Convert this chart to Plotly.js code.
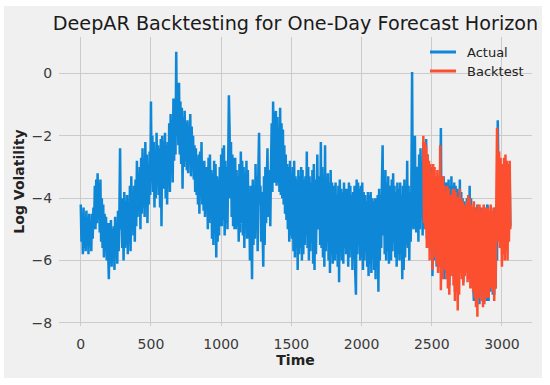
<!DOCTYPE html>
<html>
<head>
<meta charset="utf-8">
<script src="https://cdn.plot.ly/plotly-3.0.1.min.js"></script>
<style>html,body{margin:0;padding:0;background:#fff;}#chart{width:550px;height:385px;}</style>
</head>
<body>
<div id="chart"></div>
<script>
// Time step between sampled observations (days)
const timeStep = 5;
const actualStart = 0;
const backtestStart = 2440;

// Actual log volatility, sampled every 5 days from t=0 (one row = 100 days)
const actualValues = [
  -4.2,-5.4,-4.6,-5.8,-4.3,-5.6,-4.9,-5.7,-4.4,-5.2,-4.7,-5.8,-4.5,-5.5,-4.9,-5.7,-4.5,-5.3,-4.3,-5.0,
  -3.6,-5.0,-3.4,-4.8,-3.2,-4.5,-3.5,-5.1,-3.4,-5.4,-4.0,-5.6,-4.2,-5.9,-4.5,-5.7,-4.6,-6.0,-4.8,-6.1,
  -6.6,-4.8,-5.9,-4.7,-6.2,-5.0,-6.0,-4.9,-6.3,-4.6,-5.8,-4.8,-6.1,-4.4,-5.7,-4.5,-2.4,-5.0,-4.3,-5.6,
  -4.0,-6.0,-3.8,-5.6,-4.1,-5.5,-3.9,-5.8,-4.2,-5.4,-3.6,-5.7,-3.3,-5.0,-3.8,-5.2,-3.6,-5.4,-3.4,-4.9,
  -2.8,-4.6,-3.2,-4.4,-3.0,-5.0,-2.7,-4.5,-2.4,-4.3,-2.9,-4.6,-2.2,-4.1,-2.6,-4.8,-2.9,-4.2,-2.5,-3.9,
  -0.9,-3.5,-2.0,-3.8,-2.2,-4.3,-2.5,-4.0,-1.9,-3.6,-2.3,-3.9,-2.4,-4.3,-2.1,-4.9,-2.0,-3.6,-2.2,-3.7,
  -1.9,-4.0,-2.3,-4.2,-2.2,-3.6,-1.6,-3.8,-1.3,-3.2,-1.5,-3.5,-0.8,-2.8,-1.0,-2.6,0.7,-2.0,-0.6,-2.3,
  -0.3,-2.6,-0.9,-2.9,-1.1,-3.7,-1.4,-3.0,-1.2,-2.8,-1.6,-3.1,-1.5,-3.2,-1.8,-2.7,-1.3,-3.3,-1.7,-2.9,
  -2.0,-3.4,-2.3,-3.8,-2.4,-3.9,-2.7,-4.2,-2.6,-4.5,-2.5,-3.9,-2.2,-4.2,-2.9,-4.4,-2.8,-4.6,-3.0,-4.3,
  -3.0,-5.0,-2.7,-4.8,-2.6,-4.6,-3.1,-5.3,-3.2,-5.5,-2.8,-5.1,-2.9,-5.9,-3.3,-5.4,-3.4,-5.2,-3.0,-4.9,
  -2.6,-4.9,-2.4,-4.7,-2.3,-5.2,-2.8,-4.8,-3.0,-5.0,-2.5,-0.7,-1.8,-4.0,-2.2,-4.6,-2.6,-4.9,-2.7,-5.0,
  -2.7,-5.0,-3.1,-4.9,-3.3,-5.4,-2.9,-5.1,-2.5,-4.8,-2.8,-5.2,-3.0,-5.6,-3.2,-5.0,-2.8,-5.3,-3.1,-5.2,
  -4.0,-6.0,-3.6,-5.8,-6.6,-3.4,-5.5,-3.6,-5.3,-2.9,-5.0,-3.3,-5.7,-3.1,-1.9,-4.2,-3.6,-5.4,-3.8,-5.0,
  -6.2,-3.3,-5.5,-3.0,-4.8,-3.4,-2.4,-4.6,-4.4,-3.1,-4.9,-3.0,-1.6,-3.8,-0.9,-3.2,-3.5,-1.5,-1.2,-3.6,
  -1.4,-3.5,-1.8,-3.8,-1.1,-3.9,-1.6,-4.0,-1.8,-4.2,-2.3,-4.5,-2.6,-4.7,-2.9,-5.0,-3.0,-5.4,-2.8,-5.2,
  -3.2,-5.3,-3.0,-5.7,-2.8,-5.9,-3.3,-5.6,-3.4,-6.3,-3.1,-5.8,-3.3,-5.6,-3.0,-6.0,-3.1,-5.8,-3.4,-5.5,
  -3.3,-5.2,-2.5,-5.6,-3.0,-6.0,-3.3,-5.7,-3.5,-5.4,-3.1,-6.1,-2.9,-6.3,-3.4,-5.8,-3.2,-2.6,-5.0,-3.4,
  -3.3,-5.5,-2.2,-5.6,-3.0,-5.9,-3.4,-6.2,-2.3,-5.7,-3.6,-5.4,-3.2,-6.0,-3.5,-6.4,-3.1,-5.8,-3.5,-6.1,
  -5.5,-3.6,-6.0,-3.5,-5.8,-3.9,-6.2,-3.6,-6.7,-3.4,-5.4,-3.7,-6.0,-3.8,-6.1,-3.5,-5.6,-3.7,-5.8,-3.9,
  -3.7,-6.2,-3.5,-5.9,-3.6,-5.6,-3.9,-6.3,-3.8,-6.0,-3.6,-6.4,-7.1,-3.4,-5.8,-3.5,-5.5,-3.7,-6.0,-3.6,
  -5.9,-3.5,-6.3,-3.8,-6.0,-3.9,-5.7,-4.1,-6.2,-3.8,-6.5,-3.9,-6.1,-3.8,-6.4,-4.0,-5.9,-4.1,-6.3,-4.0,
  -6.6,-4.0,-6.2,-3.9,-7.0,-3.7,-6.0,-3.9,-5.6,-3.5,-2.3,-5.2,-3.4,-5.8,-3.1,-6.0,-3.5,-5.7,-3.3,-6.1,
  -5.6,-3.6,-6.0,-3.4,-5.7,-3.2,-5.4,-3.6,-5.9,-3.8,-6.2,-3.5,-5.8,-3.7,-6.0,-3.5,-5.8,-3.9,-6.6,-3.6,
  -6.3,-3.4,-5.9,-3.6,-5.5,-2.8,-5.6,-3.6,-6.0,-3.8,-5.4,-3.5,0.05,-4.2,-5.0,-3.3,-2.0,-4.6,-5.1,-3.2,
  -3.0,-5.4,-2.6,-5.0,-2.4,-4.6,-2.8,-5.2,-2.2,-5.0,-2.4,-4.8,-2.1,-5.3,-2.6,-4.8,-2.9,-5.6,-3.0,-5.4,
  -3.0,-6.5,-3.2,-6.0,-3.4,-5.8,-3.5,-6.2,-3.6,-6.2,-3.3,-5.9,-3.5,-1.75,-5.5,-3.4,-6.1,-3.3,-6.6,-3.5,
  -3.6,-6.4,-3.5,-6.1,-3.4,-6.8,-3.6,-6.3,-3.3,-5.9,-3.6,-6.5,-3.5,-7.0,-3.6,-6.6,-3.7,-6.5,-3.8,-6.2,
  -3.4,-6.2,-3.8,-6.4,-4.0,-6.7,-4.1,-6.3,-4.2,-6.0,-4.0,-6.4,-3.9,-6.1,-3.6,-6.5,-4.0,-6.5,-4.3,-6.8,
  -7.3,-4.4,-6.9,-4.3,-7.0,-4.2,-7.1,-4.5,-7.4,-4.3,-6.9,-4.5,-6.8,-4.4,-7.2,-4.3,-7.0,-4.4,-7.3,-4.2,
  -4.3,-7.3,-4.5,-7.0,-4.5,-6.6,-4.4,-7.1,-4.6,-7.1,-4.3,-6.9,-4.2,-6.0,-1.5,-3.2,-3.0,-5.0,-4.9,-3.4,
  -5.1,-2.9,-5.2,-3.0,-5.0,-3.1,-4.8,-3.3,-5.3,-3.1,-4.9,-3.3,-4.9
];

// DeepAR one-day-ahead backtest, sampled every 5 days from t=2440
const backtestValues = [
  -2.0,-4.8,-2.2,-5.0,-2.3,-5.6,-2.6,-5.4,-2.8,-6.0,-2.9,-5.7,
  -3.2,-6.3,-2.9,-5.9,-3.0,-5.5,-3.3,-6.1,-3.1,-6.4,-3.4,-6.2,-2.3,-6.95,-3.5,-6.6,-3.3,-6.0,-3.6,-6.3,
  -3.8,-6.6,-3.6,-6.9,-3.7,-7.1,-3.9,-6.5,-3.9,-6.3,-3.7,-6.8,-3.7,-7.3,-3.8,-7.0,-3.95,-7.6,-4.0,-7.1,
  -3.7,-6.4,-4.0,-6.6,-4.1,-6.8,-4.2,-6.5,-4.3,-6.3,-4.1,-6.7,-3.9,-6.6,-4.0,-6.9,-4.2,-6.9,-4.3,-7.0,
  -4.1,-7.2,-4.3,-7.5,-4.4,-7.8,-4.2,-7.2,-4.2,-6.9,-4.4,-7.3,-4.3,-7.5,-4.2,-7.4,-4.4,-7.1,-4.3,-7.2,
  -4.3,-7.2,-4.4,-6.9,-4.2,-6.8,-4.4,-7.0,-4.3,-7.3,-4.5,-6.9,-4.0,-1.75,-2.8,-5.4,-2.5,-5.6,-2.7,-5.9,
  -6.2,-2.9,-5.8,-2.7,-6.0,-2.6,-5.7,-2.8,-6.0,-2.9,-5.4,-2.8,-5.0
];

const seriesNames = ['Actual', 'Backtest'];
const seriesColors = ['#0e87d6', '#fc4f30'];
const xTickVals = [0, 500, 1000, 1500, 2000, 2500, 3000];
const yTickVals = [-8, -6, -4, -2, 0];

const actualTime = actualValues.map((_, i) => actualStart + i * timeStep);
const backtestTime = backtestValues.map((_, i) => backtestStart + i * timeStep);

const font = 'DejaVu Sans, sans-serif';

const traces = [
  {x: actualTime, y: actualValues, type: 'scatter', mode: 'lines', name: seriesNames[0],
   line: {color: seriesColors[0], width: 2.5}},
  {x: backtestTime, y: backtestValues, type: 'scatter', mode: 'lines', name: seriesNames[1],
   line: {color: seriesColors[1], width: 2.5}}
];

// plot area in px: left 59, right 532, top 37, bottom 326
const L = 59, R = 532, T = 37, B = 326, W = 550, H = 385;
const pw = R - L, ph = B - T;
const px = v => (v - L) / pw;
const py = v => (B - v) / ph;

// legend drawn at fixed position (matching the reference's upper-right legend)
const legendRows = [52, 71];
const legendShapes = seriesNames.map((n, i) => ({
  type: 'line', xref: 'paper', yref: 'paper',
  x0: px(430), x1: px(456), y0: py(legendRows[i]), y1: py(legendRows[i]),
  line: {color: seriesColors[i], width: 3}
}));
const legendText = seriesNames.map((n, i) => ({
  text: n, xref: 'paper', yref: 'paper', x: px(465), y: py(legendRows[i]),
  xanchor: 'left', yanchor: 'middle', showarrow: false,
  font: {family: font, size: 13, color: '#222'}
}));

const layout = {
  width: W, height: H,
  margin: {l: L, r: W - R, t: T, b: H - B, pad: 0},
  paper_bgcolor: '#ffffff',
  plot_bgcolor: '#f0f0f0',
  font: {family: font, size: 14, color: '#3a3a3a'},
  showlegend: false,
  title: {
    text: 'DeepAR Backtesting for One-Day Forecast Horizon',
    font: {family: font, size: 19.2, color: '#1a1a1a'},
    x: 0.5, xref: 'paper', xanchor: 'center',
    y: 1 - 23 / H, yref: 'container', yanchor: 'middle'
  },
  xaxis: {
    range: [-155, 3214],
    tickvals: xTickVals,
    showgrid: true, gridcolor: '#cbcbcb', gridwidth: 1,
    zeroline: false, showline: false,
    ticks: 'outside', ticklen: 5, tickcolor: 'rgba(0,0,0,0)',
    tickfont: {family: font, size: 14, color: '#3a3a3a'},
    title: {text: '<b>Time</b>', font: {family: font, size: 14, color: '#222'}, standoff: 4}
  },
  yaxis: {
    range: [-8.1, 1.17],
    tickvals: yTickVals,
    showgrid: true, gridcolor: '#cbcbcb', gridwidth: 1,
    zeroline: false, showline: false,
    ticks: 'outside', ticklen: 3, tickcolor: 'rgba(0,0,0,0)',
    tickfont: {family: font, size: 14, color: '#3a3a3a'},
    title: {text: '<b>Log Volatility</b>', font: {family: font, size: 14, color: '#222'}, standoff: 3}
  },
  annotations: legendText,
  shapes: [{
    type: 'rect', xref: 'paper', yref: 'paper', layer: 'below',
    x0: px(4), x1: px(542), y0: py(378), y1: py(6),
    fillcolor: '#f0f0f0', line: {width: 0}
  }].concat(legendShapes)
};

Plotly.newPlot('chart', traces, layout, {displayModeBar: false, staticPlot: true});
</script>
</body>
</html>
